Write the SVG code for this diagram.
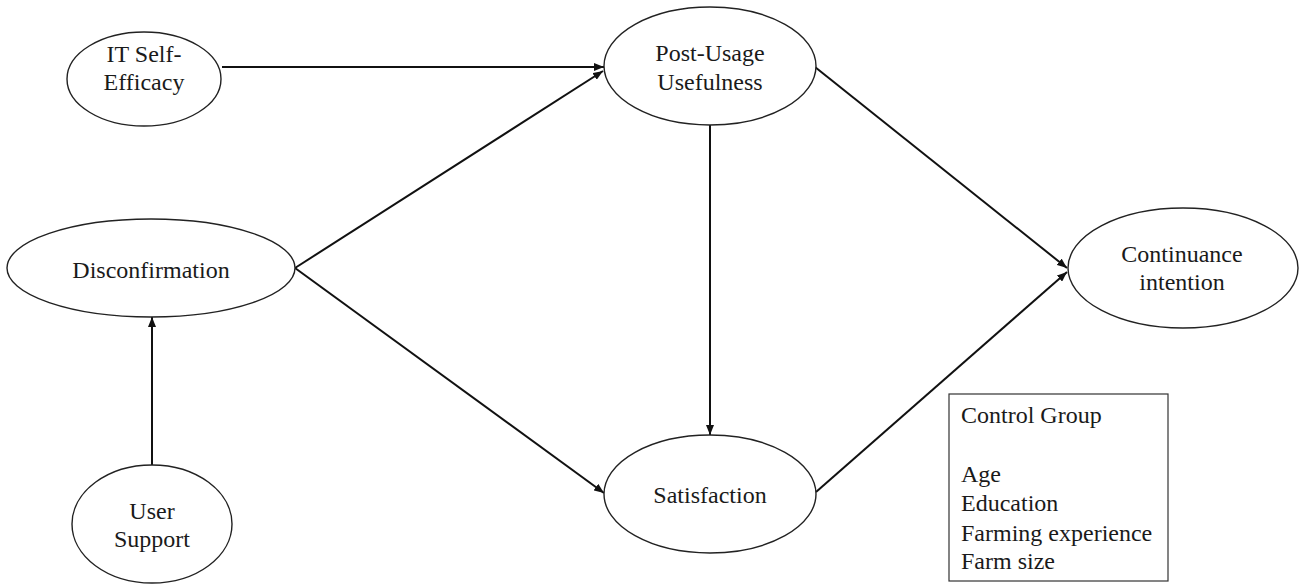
<svg xmlns="http://www.w3.org/2000/svg" width="1306" height="584" viewBox="0 0 1306 584">
<defs>
<marker id="arr" markerWidth="10" markerHeight="8" refX="10" refY="4" orient="auto" markerUnits="userSpaceOnUse">
<path d="M0,0 L10,4 L0,8 Z" fill="#111"/>
</marker>
<style>
.node ellipse{fill:#fff;stroke:#222;stroke-width:1.4}
.lbl{font-family:"Liberation Serif","Times New Roman",serif;font-size:24px;fill:#1a1a1a;text-anchor:middle}
.box{fill:#fff;stroke:#333;stroke-width:1.2}
.lft{font-family:"Liberation Serif","Times New Roman",serif;font-size:24px;fill:#1a1a1a}
.edge{stroke:#111;stroke-width:2;fill:none;marker-end:url(#arr)}
</style>
</defs>
<rect width="1306" height="584" fill="#fff"/>
<g id="connectors">
<line class="edge" x1="222" y1="67" x2="604" y2="67"/>
<line class="edge" x1="295" y1="268" x2="603" y2="71"/>
<line class="edge" x1="295" y1="268" x2="604" y2="493"/>
<line class="edge" x1="710" y1="125" x2="710" y2="435"/>
<line class="edge" x1="152" y1="465" x2="152" y2="317"/>
<line class="edge" x1="815" y1="67" x2="1067" y2="268"/>
<line class="edge" x1="816" y1="492" x2="1067" y2="272"/>
</g>
<g id="it-self-efficacy" class="node">
<ellipse cx="144" cy="79" rx="77" ry="47"/>
<text class="lbl" x="144" y="62">IT Self-</text>
<text class="lbl" x="144" y="90">Efficacy</text>
</g>
<g id="post-usage-usefulness" class="node">
<ellipse cx="710" cy="66" rx="106" ry="59"/>
<text class="lbl" x="710" y="61">Post-Usage</text>
<text class="lbl" x="710" y="90">Usefulness</text>
</g>
<g id="disconfirmation" class="node">
<ellipse cx="151" cy="268" rx="144" ry="49"/>
<text class="lbl" x="151" y="278">Disconfirmation</text>
</g>
<g id="continuance-intention" class="node">
<ellipse cx="1183" cy="268" rx="115" ry="60"/>
<text class="lbl" x="1182" y="262">Continuance</text>
<text class="lbl" x="1182" y="290">intention</text>
</g>
<g id="satisfaction" class="node">
<ellipse cx="710" cy="494" rx="106" ry="59"/>
<text class="lbl" x="710" y="503">Satisfaction</text>
</g>
<g id="user-support" class="node">
<ellipse cx="152" cy="524" rx="80" ry="59"/>
<text class="lbl" x="152" y="519">User</text>
<text class="lbl" x="152" y="547">Support</text>
</g>
<g id="control-group">
<rect class="box" x="949" y="394" width="219" height="187"/>
<text class="lft" x="961" y="423">Control Group</text>
<text class="lft" x="961" y="482">Age</text>
<text class="lft" x="961" y="511">Education</text>
<text class="lft" x="961" y="541">Farming experience</text>
<text class="lft" x="961" y="569">Farm size</text>
</g>
</svg>
